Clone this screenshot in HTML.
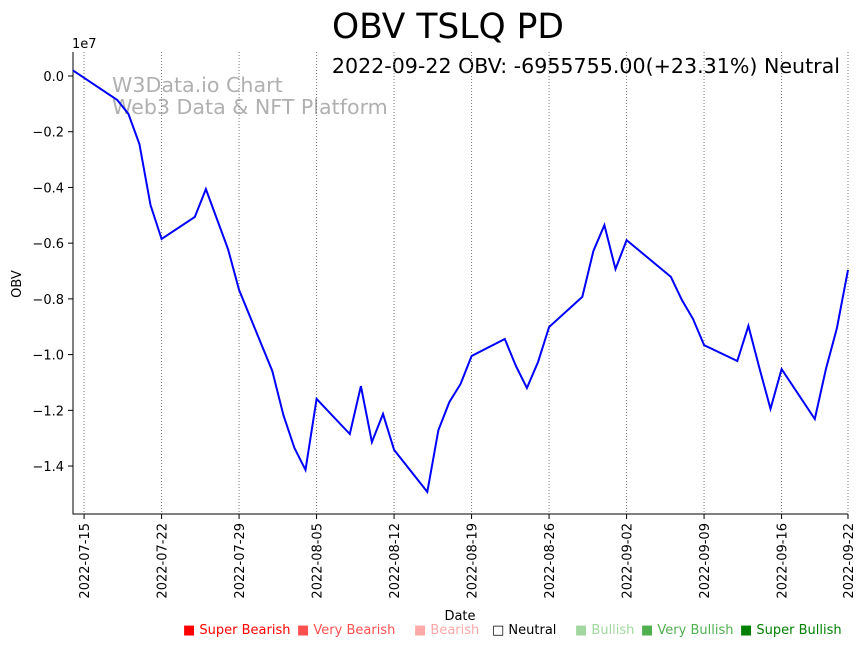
<!DOCTYPE html>
<html><head><meta charset="utf-8"><style>
body{margin:0;background:#fff;font-family:"DejaVu Sans","Liberation Sans",sans-serif;}
</style></head><body>
<svg id="chart" width="867" height="646" xmlns="http://www.w3.org/2000/svg" font-family="DejaVu Sans, Liberation Sans, sans-serif">
<text x="448" y="38" font-size="34.5" text-anchor="middle">OBV TSLQ PD</text>
<text x="840" y="73" font-size="20.6" text-anchor="end">2022-09-22 OBV: -6955755.00(+23.31%) Neutral</text>
<text x="112" y="92" font-size="20.6" fill="#b0b0b0">W3Data.io Chart</text>
<text x="112" y="114" font-size="20.6" fill="#b0b0b0">Web3 Data &amp; NFT Platform</text>
<text x="72" y="48" font-size="13">1e7</text>
<text x="21" y="284" font-size="13" text-anchor="middle" transform="rotate(-90 21 284)">OBV</text>
<text x="460" y="620" font-size="13" text-anchor="middle">Date</text>
<g id="grid"></g><g id="axes"></g><g id="series"></g>
<g font-size="13">
<text x="183" y="634" fill="#ff0000">■ Super Bearish</text>
<text x="297" y="634" fill="#ff5050">■ Very Bearish</text>
<text x="414" y="634" fill="#ffa8a8">■ Bearish</text>
<text x="492" y="634" fill="#000">□ Neutral</text>
<text x="575" y="634" fill="#a0d8a0">■ Bullish</text>
<text x="641" y="634" fill="#50b050">■ Very Bullish</text>
<text x="740" y="634" fill="#008000">■ Super Bullish</text>
</g>
</svg>
<script>
const dayOffsets=[0,4,5,6,7,8,11,12,14,15,18,19,20,21,22,25,26,27,28,29,32,33,34,35,36,39,40,41,42,43,46,47,48,49,50,54,55,56,57,60,61,62,63,64,67,68,69,70];
const obvValues=[0.02,-0.086,-0.136,-0.244,-0.463,-0.585,-0.506,-0.406,-0.621,-0.768,-1.059,-1.217,-1.335,-1.414,-1.159,-1.285,-1.113,-1.314,-1.213,-1.342,-1.493,-1.271,-1.170,-1.106,-1.005,-0.944,-1.041,-1.120,-1.027,-0.901,-0.793,-0.628,-0.535,-0.693,-0.589,-0.721,-0.804,-0.872,-0.966,-1.023,-0.897,-1.048,-1.195,-1.052,-1.231,-1.052,-0.905,-0.696];
const xTickDays=[1,8,15,22,29,36,43,50,57,64,70];
const xTickLabels=["2022-07-15","2022-07-22","2022-07-29","2022-08-05","2022-08-12","2022-08-19","2022-08-26","2022-09-02","2022-09-09","2022-09-16","2022-09-22"];
const yTicks=[0,-0.2,-0.4,-0.6,-0.8,-1.0,-1.2,-1.4];
const L=73,R=848,T=52,B=514;
const xs=d=>L+d*(R-L)/70;
const ys=v=>76-v*278.6;
const NS="http://www.w3.org/2000/svg";
function mk(t,a,p){const e=document.createElementNS(NS,t);for(const k in a)e.setAttribute(k,a[k]);p.appendChild(e);return e;}
const grid=document.getElementById('grid'),axes=document.getElementById('axes'),series=document.getElementById('series');
xTickDays.forEach((d,i)=>{
 const x=xs(d);
 const g=mk('line',{x1:x,x2:x,y1:T,y2:B,stroke:'#777','stroke-dasharray':'1,2','stroke-width':1},grid);
 
 
 const t=mk('line',{x1:x,x2:x,y1:B,y2:B+5,stroke:'#000'},axes);
 
 
 const lb=mk('text',{x:x+5,y:B+9,'font-size':13,'text-anchor':'end',transform:`rotate(-90 ${x+5} ${B+9})`},axes);
 lb.textContent=xTickLabels[i];
 
 
});
yTicks.forEach(v=>{
 const y=ys(v);
 const t=mk('line',{x1:L-5,x2:L,y1:y,y2:y,stroke:'#000'},axes);
 
 
 const lb=mk('text',{x:L-9,y:y+5,'font-size':13,'text-anchor':'end'},axes);
 lb.textContent=v===0?'0.0':v.toFixed(1).replace('-','−');
 
 
});
const ax=mk('path',{d:`M${L},${T}V${B}H${R}`,fill:'none',stroke:'#000'},axes);


const pts=dayOffsets.map((d,i)=>xs(d).toFixed(1)+','+ys(obvValues[i]).toFixed(1)).join(' ');
const ln=mk('polyline',{points:pts,fill:'none',stroke:'#0000ff','stroke-width':2},series);


</script>
</body></html>
